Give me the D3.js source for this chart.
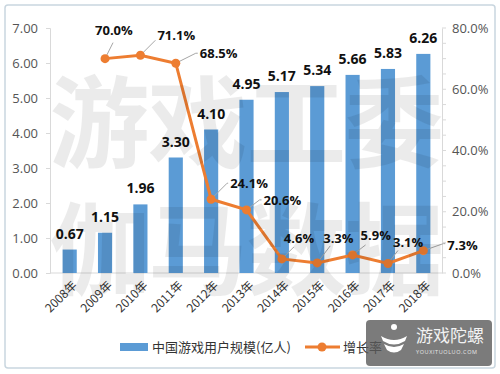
<!DOCTYPE html>
<html>
<head>
<meta charset="utf-8">
<script src="https://cdn.jsdelivr.net/npm/d3@7"></script>
<style>
  body { margin: 0; background: #fff; }
  svg { display: block; }
</style>
</head>
<body>
<svg id="chart" width="500" height="374"></svg>
<script>
// data
const years = ['2008年', '2009年', '2010年', '2011年', '2012年', '2013年', '2014年', '2015年', '2016年', '2017年', '2018年'];
const users = [0.67, 1.15, 1.96, 3.30, 4.10, 4.95, 5.17, 5.34, 5.66, 5.83, 6.26];
const growth = [null, 0.700, 0.711, 0.685, 0.241, 0.206, 0.046, 0.033, 0.059, 0.031, 0.073];
const leftTicks = [0, 1, 2, 3, 4, 5, 6, 7];
const rightTicks = [0, 0.2, 0.4, 0.6, 0.8];

// where each growth label sits relative to its point (leader line end, text start)
const labelPos = [
  null,
  { lx: 8, ly: -16, tx: -10, ty: -29 },
  { lx: 15, ly: -15, tx: 17, ty: -20 },
  { lx: 20, ly: -10, tx: 24, ty: -10 },
  { lx: 16, ly: -16, tx: 19, ty: -16 },
  { lx: 13, ly: -10, tx: 17, ty: -10 },
  { lx: 12, ly: -12, tx: 2, ty: -21 },
  { lx: 13, ly: -17, tx: 6, ty: -25 },
  { lx: 13, ly: -10, tx: 8, ty: -20 },
  { lx: 10, ly: -13, tx: 5, ty: -22 },
  { lx: 20, ly: -7, tx: 24, ty: -6 }
];

const blue = '#5b9bd5';
const orange = '#ed7d31';
const numFont = '"Open Sans", "Noto Sans", sans-serif';
const cjkFont = '"Noto Sans CJK SC", "Noto Sans", sans-serif';

const svg = d3.select('#chart');

// frame
svg.append('rect')
  .attr('x', 5).attr('y', 5).attr('width', 490).attr('height', 363)
  .attr('rx', 3)
  .attr('fill', '#fff')
  .attr('stroke', '#c9d6df')
  .attr('stroke-width', 1.5);

const x = d3.scaleBand().domain(years).range([52, 441]).paddingInner(0.6).paddingOuter(0.3);
const y = d3.scaleLinear().domain([0, 7]).range([273, 28]);
const y2 = d3.scaleLinear().domain([0, 0.8]).range([273, 28]);
const cx = function (d) { return x(d) + x.bandwidth() / 2; };

// left axis
const leftAxis = svg.append('g')
  .attr('transform', 'translate(50,0)')
  .call(d3.axisLeft(y).tickValues(leftTicks).tickFormat(d3.format('.2f')).tickSize(4).tickPadding(8));
leftAxis.select('.domain').attr('stroke', '#d9d9d9');
leftAxis.selectAll('.tick line').attr('stroke', '#d9d9d9');
leftAxis.selectAll('text')
  .attr('fill', '#555')
  .style('font-family', numFont)
  .style('font-size', '13px');

// right axis
const rightAxis = svg.append('g')
  .attr('transform', 'translate(442,0)')
  .call(d3.axisRight(y2).tickValues(rightTicks).tickFormat(d3.format('.1%')).tickSize(0).tickPadding(10));
rightAxis.select('.domain').attr('stroke', '#d9d9d9');
rightAxis.selectAll('text')
  .attr('fill', '#555')
  .style('font-family', numFont)
  .style('font-size', '13px');
svg.append('g').selectAll('line')
  .data(d3.range(0, 0.8001, 0.05))
  .enter().append('line')
  .attr('x1', 442).attr('x2', 446)
  .attr('y1', function (d) { return y2(d); })
  .attr('y2', function (d) { return y2(d); })
  .attr('stroke', '#d9d9d9');

// baseline
svg.append('line')
  .attr('x1', 50).attr('x2', 442)
  .attr('y1', y(0)).attr('y2', y(0))
  .attr('stroke', '#d9d9d9');

// bars
svg.append('g').selectAll('rect')
  .data(users)
  .enter().append('rect')
  .attr('x', function (d, i) { return x(years[i]); })
  .attr('width', x.bandwidth())
  .attr('y', function (d) { return y(d); })
  .attr('height', function (d) { return y(0) - y(d); })
  .attr('fill', blue);

svg.append('g').selectAll('text')
  .data(users)
  .enter().append('text')
  .attr('x', function (d, i) { return cx(years[i]); })
  .attr('y', function (d) { return y(d) - 11; })
  .attr('text-anchor', 'middle')
  .attr('fill', '#111')
  .style('font-family', numFont)
  .style('font-weight', 'bold')
  .style('font-size', '14px')
  .text(function (d) { return d.toFixed(2); });

// growth line
const pts = growth.map(function (g, i) { return { year: years[i], g: g, pos: labelPos[i] }; })
  .filter(function (d) { return d.g !== null; });

svg.append('path')
  .datum(pts)
  .attr('fill', 'none')
  .attr('stroke', orange)
  .attr('stroke-width', 3)
  .attr('d', d3.line()
    .x(function (d) { return cx(d.year); })
    .y(function (d) { return y2(d.g); }));

// leader lines
svg.append('g').selectAll('path')
  .data(pts)
  .enter().append('path')
  .attr('fill', 'none')
  .attr('stroke', '#a6a6a6')
  .attr('stroke-width', 1)
  .attr('d', function (d) {
    const px = cx(d.year), py = y2(d.g);
    const ex = px + d.pos.lx, ey = py + d.pos.ly;
    if (d.pos.tx > d.pos.lx) {
      return 'M' + px + ',' + py + 'L' + ex + ',' + ey + 'L' + (px + d.pos.tx - 2) + ',' + ey;
    }
    return 'M' + px + ',' + py + 'L' + ex + ',' + ey;
  });

svg.append('g').selectAll('circle')
  .data(pts)
  .enter().append('circle')
  .attr('cx', function (d) { return cx(d.year); })
  .attr('cy', function (d) { return y2(d.g); })
  .attr('r', 4.5)
  .attr('fill', orange);

svg.append('g').selectAll('text')
  .data(pts)
  .enter().append('text')
  .attr('x', function (d) { return cx(d.year) + d.pos.tx; })
  .attr('y', function (d) { return y2(d.g) + d.pos.ty + 5; })
  .attr('fill', '#111')
  .style('font-family', numFont)
  .style('font-weight', 'bold')
  .style('font-size', '13px')
  .text(function (d) { return d3.format('.1%')(d.g); });

// category labels
svg.append('g').selectAll('text')
  .data(years)
  .enter().append('text')
  .attr('transform', function (d) { return 'translate(' + (cx(d) + 5) + ',283) rotate(-45)'; })
  .attr('text-anchor', 'end')
  .attr('dy', '0.35em')
  .attr('fill', '#333')
  .style('font-family', cjkFont)
  .style('font-size', '12px')
  .text(function (d) { return d; });

// watermark
const wm = svg.append('g')
  .attr('fill', '#000')
  .attr('fill-opacity', 0.08)
  .style('font-family', cjkFont)
  .style('font-size', '100px')
  .style('font-weight', 'bold');
wm.append('text').attr('x', 247).attr('y', 160).attr('text-anchor', 'middle')
  .attr('textLength', 395).text('游戏工委');
wm.append('text').attr('x', 247).attr('y', 287).attr('text-anchor', 'middle')
  .attr('textLength', 395).text('伽马数据');

// legend
const legend = svg.append('g').style('font-family', cjkFont).style('font-size', '13px');
legend.append('rect').attr('x', 120).attr('y', 343).attr('width', 28).attr('height', 8).attr('fill', blue);
legend.append('text').attr('x', 152).attr('y', 347).attr('dy', '0.35em').attr('fill', '#333')
  .text('中国游戏用户规模(亿人)');
legend.append('line').attr('x1', 305).attr('x2', 340).attr('y1', 347).attr('y2', 347)
  .attr('stroke', orange).attr('stroke-width', 3);
legend.append('circle').attr('cx', 322).attr('cy', 347).attr('r', 4.5).attr('fill', orange);
legend.append('text').attr('x', 343).attr('y', 347).attr('dy', '0.35em').attr('fill', '#333')
  .text('增长率');

// site logo badge
const badge = svg.append('g');
badge.append('rect')
  .attr('x', 366).attr('y', 320).attr('width', 126).attr('height', 46).attr('rx', 4)
  .attr('fill', '#5a5a5a').attr('fill-opacity', 0.8);
badge.append('circle').attr('cx', 394).attr('cy', 327).attr('r', 3).attr('fill', '#fff');
badge.append('path')
  .attr('d', 'M381,336 Q394,344 407,336 L405,341 Q394,348 383,341 Z')
  .attr('fill', '#fff');
badge.append('path')
  .attr('d', 'M384,344 Q394,350 404,344 L401,350 Q394,355 387,350 Z')
  .attr('fill', '#fff');
badge.append('text')
  .attr('x', 416).attr('y', 342)
  .attr('fill', '#f2f2f2')
  .style('font-family', cjkFont)
  .style('font-size', '17px')
  .text('游戏陀螺');
badge.append('text')
  .attr('x', 416).attr('y', 354)
  .attr('fill', '#e6e6e6')
  .style('font-family', numFont)
  .style('font-size', '5.5px')
  .attr('textLength', 61)
  .text('YOUXITUOLUO.COM');
</script>
</body>
</html>
